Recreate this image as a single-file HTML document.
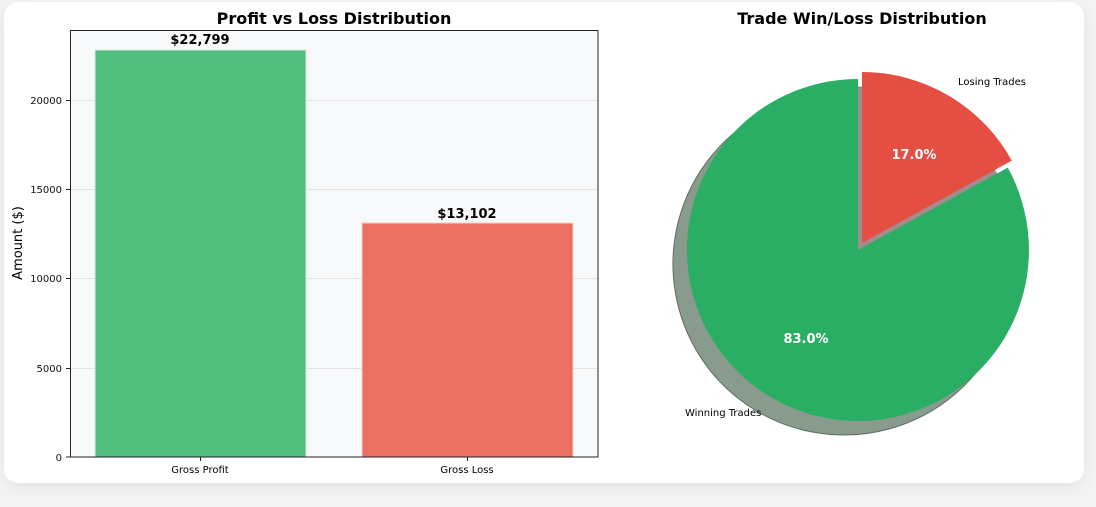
<!DOCTYPE html>
<html><head><meta charset="utf-8"><style>
html,body{margin:0;padding:0;background:#f4f4f5;}
body{width:1096px;height:507px;overflow:hidden;position:relative;font-family:"DejaVu Sans","Liberation Sans",sans-serif;}
.card{position:absolute;left:4px;top:2px;width:1080px;height:481px;background:#fff;border-radius:14px;box-shadow:0 4px 16px rgba(0,0,0,0.08);}
svg{position:absolute;left:0;top:0;}
</style></head><body>
<div class="card"></div>
<svg width="1096" height="507" viewBox="0 0 1096 507" font-family="DejaVu Sans, Liberation Sans, sans-serif">
<text x="334" y="24" text-anchor="middle" font-size="16" font-weight="bold">Profit vs Loss Distribution</text>
<rect x="70" y="30" width="528" height="427" fill="#f8f9fa"/>
<g stroke="#e2e2e2" stroke-width="1">
<line x1="70" y1="100.5" x2="598" y2="100.5"/>
<line x1="70" y1="189.5" x2="598" y2="189.5"/>
<line x1="70" y1="278.5" x2="598" y2="278.5"/>
<line x1="70" y1="368.5" x2="598" y2="368.5"/>
</g>
<rect x="95" y="50" width="211" height="407" fill="#52be80" stroke="#d5eedd" stroke-width="1"/>
<rect x="362" y="223" width="211" height="234" fill="#ec7063" stroke="#f5d0cb" stroke-width="1"/>
<rect x="70.5" y="30.5" width="527.5" height="426.5" fill="none" stroke="#222" stroke-width="1"/>
<text x="200" y="44" text-anchor="middle" font-size="13" font-weight="bold">$22,799</text>
<text x="467" y="218" text-anchor="middle" font-size="13" font-weight="bold">$13,102</text>
<g font-size="10" text-anchor="end" fill="#111">
<text x="62" y="104">20000</text>
<text x="62" y="193">15000</text>
<text x="62" y="282">10000</text>
<text x="62" y="372">5000</text>
<text x="62" y="461">0</text>
</g>
<g stroke="#222"><line x1="66" y1="100.5" x2="70" y2="100.5"/><line x1="66" y1="189.5" x2="70" y2="189.5"/><line x1="66" y1="278.5" x2="70" y2="278.5"/><line x1="66" y1="368.5" x2="70" y2="368.5"/><line x1="66" y1="457" x2="70" y2="457"/>
<line x1="200.5" y1="457" x2="200.5" y2="461"/><line x1="467.5" y1="457" x2="467.5" y2="461"/></g>
<text x="200" y="473" text-anchor="middle" font-size="10">Gross Profit</text>
<text x="467" y="473" text-anchor="middle" font-size="10">Gross Loss</text>
<text transform="translate(22,243) rotate(-90)" text-anchor="middle" font-size="13">Amount ($)</text>

<text x="862" y="24" text-anchor="middle" font-size="16" font-weight="bold">Trade Win/Loss Distribution</text>
<path d="M844,264 L844,93 A171,171 0 1 0 993.8,181.6 Z" fill="#889b8c" stroke="#5e6e62" stroke-width="1"/>
<path d="M848,257 L848,86 A171,171 0 0 1 997.8,174.6 Z" fill="#a08c8c"/>
<path d="M858,250 L858,79 A171,171 0 1 0 1007.8,167.6 Z" fill="#2aae64"/>
<path d="M862,243 L862,72 A171,171 0 0 1 1011.8,160.6 Z" fill="#e54e43"/>
<text x="914" y="159" text-anchor="middle" font-size="13" font-weight="bold" fill="#fff">17.0%</text>
<text x="806" y="343" text-anchor="middle" font-size="13" font-weight="bold" fill="#fff">83.0%</text>
<text x="958" y="85" font-size="10">Losing Trades</text>
<text x="685" y="416" font-size="10">Winning Trades</text>
</svg>
</body></html>
